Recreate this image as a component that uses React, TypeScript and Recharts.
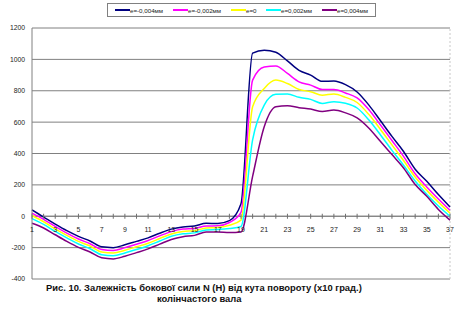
import { LineChart, Line, XAxis, YAxis, CartesianGrid, ReferenceLine } from "recharts";

// crank angle, x10 deg
const angles = [
  "1", "2", "3", "4", "5", "6", "7", "8", "9", "10", "11", "12", "13", "14", "15", "16", "17", "18", "19",
  "20", "21", "22", "23", "24", "25", "26", "27", "28", "29", "30", "31", "32", "33", "34", "35", "36", "37",
];

// side force N (H) for each eccentricity
const eMinus004 = [
  40, -5, -50, -92, -128, -158, -195, -200, -182, -160, -138, -108, -82, -68, -62, -45, -46, -28, 80,
  1040, 1058, 1045, 990, 930, 900, 860, 862, 839, 792, 710, 610, 509, 413, 300, 223, 138, 59,
];
const eMinus002 = [
  20, -20, -65, -108, -145, -175, -212, -218, -200, -178, -155, -125, -98, -82, -78, -62, -61, -40, 25,
  868, 952, 958, 910, 857, 836, 808, 808, 786, 754, 680, 583, 483, 382, 271, 187, 110, 38,
];
const eZero = [
  5, -35, -80, -122, -160, -190, -228, -235, -217, -195, -172, -142, -113, -97, -92, -75, -72, -57, -25,
  698, 815, 868, 846, 808, 794, 772, 779, 758, 725, 650, 555, 455, 355, 250, 165, 90, 20,
];
const ePlus002 = [
  -15, -52, -97, -138, -177, -207, -245, -252, -234, -212, -188, -158, -128, -112, -106, -88, -85, -78, -65,
  487, 709, 777, 779, 758, 745, 719, 730, 720, 690, 615, 520, 420, 325, 225, 140, 65, 0,
];
const ePlus004 = [
  -45, -75, -118, -160, -198, -228, -265, -272, -255, -232, -208, -178, -148, -130, -122, -100, -100, -104, -100,
  254, 571, 698, 705, 692, 683, 667, 677, 659, 627, 563, 478, 393, 308, 202, 127, 43, -25,
];

const seriesNames = ["е=-0,004мм", "е=-0,002мм", "е=0", "е=0,002мм", "е=0,004мм"];
const yTicks = [-400, -200, 0, 200, 400, 600, 800, 1000, 1200];

const SERIES = [
  { key: "m004", name: seriesNames[0], values: eMinus004, color: "#000080" },
  { key: "m002", name: seriesNames[1], values: eMinus002, color: "#ff00ff" },
  { key: "z", name: seriesNames[2], values: eZero, color: "#ffff00" },
  { key: "p002", name: seriesNames[3], values: ePlus002, color: "#00ffff" },
  { key: "p004", name: seriesNames[4], values: ePlus004, color: "#800080" },
];

const data = angles.map((a, i) => {
  const row: Record<string, string | number> = { angle: a };
  SERIES.forEach((s) => (row[s.key] = s.values[i]));
  return row;
});

const W = 464;
const H = 309;
const M_TOP = 28;
const X_AXIS_H = 30;
const Y_MIN = -400;
const Y_MAX = 1200;
const PLOT_H = H - M_TOP - X_AXIS_H;
const ZERO_Y = M_TOP + (PLOT_H * Y_MAX) / (Y_MAX - Y_MIN);

const FONT = "Arial, 'Liberation Sans', sans-serif";

function ZeroAxisTick(props: any) {
  const { x, payload } = props;
  const n = Number(payload.value);
  return (
    <g>
      <line x1={x} x2={x} y1={ZERO_Y - 2.5} y2={ZERO_Y + 2.5} stroke="#707070" />
      {n % 2 === 1 && (
        <text x={x} y={ZERO_Y + 16} textAnchor="middle" fontSize={7} fontFamily={FONT} fill="#222">
          {payload.value}
        </text>
      )}
    </g>
  );
}

const legendX = [7, 65, 123, 158, 214];

const titleStyle = {
  position: "absolute" as const,
  fontFamily: FONT,
  fontSize: 9.4,
  fontWeight: "bold" as const,
  color: "#111",
  whiteSpace: "nowrap" as const,
  lineHeight: "10px",
};

export default function App() {
  return (
    <div style={{ position: "absolute", left: 0, top: 0, width: W, height: H, background: "#fff" }}>
      <LineChart width={W} height={H} data={data} margin={{ top: M_TOP, right: 14, left: 0, bottom: 0 }}>
        <CartesianGrid vertical={false} stroke="#808080" />
        <XAxis
          dataKey="angle"
          interval={0}
          height={X_AXIS_H}
          axisLine={false}
          tickLine={false}
          tick={<ZeroAxisTick />}
        />
        <YAxis
          domain={[Y_MIN, Y_MAX]}
          ticks={yTicks}
          width={32}
          axisLine={{ stroke: "#808080" }}
          tickLine={false}
          tickSize={0}
          tickMargin={7}
          tick={{ fontSize: 6.8, fontFamily: FONT, fill: "#222" }}
        />
        <ReferenceLine x="37" stroke="#c8c8c8" strokeDasharray="2 2" />
        <ReferenceLine y={0} stroke="#808080" />
        {SERIES.map((s) => (
          <Line
            key={s.key}
            dataKey={s.key}
            name={s.name}
            type="monotone"
            stroke={s.color}
            strokeWidth={1.5}
            dot={false}
            isAnimationActive={false}
          />
        ))}
      </LineChart>

      <div
        style={{
          position: "absolute",
          left: 107,
          top: 3,
          width: 269,
          height: 14,
          border: "1px solid #808080",
          boxSizing: "border-box",
          fontFamily: FONT,
          fontSize: 6.2,
          color: "#222",
        }}
      >
        {SERIES.map((s, i) => (
          <div
            key={s.key}
            style={{ position: "absolute", left: legendX[i], top: 0, height: 12, display: "flex", alignItems: "center" }}
          >
            <span style={{ display: "block", flexShrink: 0, width: 15, height: 1.5, background: s.color }} />
            <span style={{ whiteSpace: "nowrap" }}>{s.name}</span>
          </div>
        ))}
      </div>

      <div style={{ ...titleStyle, left: 46, top: 283 }}>
        Рис. 10. Залежність бокової сили N (Н) від кута повороту (x10 град.)
      </div>
      <div style={{ ...titleStyle, left: 157, top: 294 }}>колінчастого вала</div>
    </div>
  );
}
